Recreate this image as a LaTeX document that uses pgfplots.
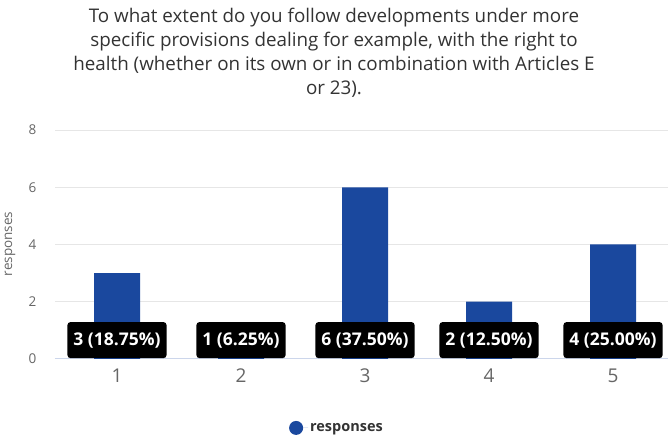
\documentclass[border=0pt]{standalone}
\usepackage{pgfplots}
\pgfplotsset{compat=1.18}
\usepackage{fontspec}
\setmainfont{Open Sans}
\definecolor{barblue}{RGB}{26,72,158}
\definecolor{txtgray}{HTML}{666666}
\definecolor{titlegray}{HTML}{333333}
\definecolor{gridgray}{HTML}{E6E6E6}
\definecolor{axisblue}{HTML}{CCD6EB}
\begin{document}
\begin{tikzpicture}[x=1pt,y=1pt]
\useasboundingbox (0,0) rectangle (668,435);
\node[align=center, font=\fontsize{18.8}{24}\selectfont, text=titlegray] at (334,382)
 {To what extent do you follow developments under more\\specific provisions dealing for example, with the right to\\health (whether on its own or in combination with Articles E\\or 23).};
\node[rotate=90, font=\fontsize{13.5}{15}\selectfont, text=txtgray] at (10,191) {responses};
\begin{axis}[at={(55pt,76pt)}, anchor=south west, scale only axis,
 width=613pt, height=229pt,
 xmin=0.5, xmax=5.4435, ymin=0, ymax=8,
 ytick={0,2,4,6,8}, xtick={1,2,3,4,5},
 ymajorgrids, grid style={color=gridgray, line width=1pt},
 axis x line*=bottom, axis y line*=left,
 y axis line style={draw=none},
 x axis line style={-, color=axisblue, line width=1pt},
 major tick length=0pt,
 /pgf/number format/assume math mode=true,
 yticklabel style={font=\fontsize{13.5}{15}\selectfont, text=txtgray, xshift=-15pt},
 xticklabel style={font=\fontsize{19}{21}\selectfont, text=txtgray, yshift=-6pt},
 clip=false,
 legend style={at={(0.46,-0.301)}, anchor=center, draw=none, fill=none,
   font=\bfseries\fontsize{14.5}{16}\selectfont, text=titlegray},
 legend image code/.code={\fill[barblue] (7pt,0) circle (7pt); \path (0,0) -- (19pt,0);},
]
\addplot[ybar, bar shift=0pt, bar width=46pt, fill=barblue, draw=none]
 coordinates {(1,3) (2,1) (3,6) (4,2) (5,4)};
\addlegendentry{responses}
\addplot[only marks, mark=*, mark size=0pt, draw=none, forget plot,
 nodes near coords, point meta=explicit symbolic,
 every node near coord/.style={anchor=center, fill=black, rounded corners=3pt,
   text=white, font=\bfseries\fontsize{17.5}{19}\selectfont,
   inner xsep=6pt, minimum height=36pt}]
 coordinates {(1,0.66) [3 (18.75\%)] (2,0.66) [1 (6.25\%)] (3,0.66) [6 (37.50\%)] (4,0.66) [2 (12.50\%)] (5,0.66) [4 (25.00\%)]};
\end{axis}
\end{tikzpicture}
\end{document}
